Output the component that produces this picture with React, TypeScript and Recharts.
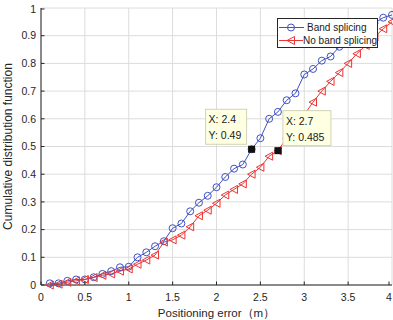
import {
  CartesianGrid,
  Legend,
  Line,
  LineChart,
  XAxis,
  YAxis,
} from "recharts";

const errorSteps = [
  0.1, 0.2, 0.3, 0.4, 0.5, 0.6, 0.7, 0.8, 0.9, 1.0,
  1.1, 1.2, 1.3, 1.4, 1.5, 1.6, 1.7, 1.8, 1.9, 2.0,
  2.1, 2.2, 2.3, 2.4, 2.5, 2.6, 2.7, 2.8, 2.9, 3.0,
  3.1, 3.2, 3.3, 3.4, 3.5, 3.6, 3.7, 3.8, 3.9, 4.0,
];

const bandSplicing = [
  0.006, 0.006, 0.015, 0.02, 0.02, 0.028, 0.04, 0.05, 0.064, 0.066,
  0.1, 0.118, 0.14, 0.158, 0.205, 0.222, 0.266, 0.297, 0.322, 0.353,
  0.39, 0.42, 0.435, 0.49, 0.53, 0.6, 0.625, 0.667, 0.692, 0.76,
  0.78, 0.81, 0.825, 0.86, 0.885, 0.905, 0.925, 0.945, 0.965, 0.975,
];

const noBandSplicing = [
  0.0, 0.003, 0.01, 0.015, 0.02, 0.027, 0.035, 0.04, 0.05, 0.058,
  0.075, 0.09, 0.108, 0.155, 0.163, 0.18, 0.21, 0.25, 0.27, 0.295,
  0.325, 0.345, 0.365, 0.4, 0.425, 0.465, 0.485, 0.53, 0.57, 0.615,
  0.66, 0.7, 0.735, 0.767, 0.8, 0.835, 0.865, 0.895, 0.925, 0.95,
];

const xTicks = [0, 0.5, 1, 1.5, 2, 2.5, 3, 3.5, 4];
const yTicks = [0, 0.1, 0.2, 0.3, 0.4, 0.5, 0.6, 0.7, 0.8, 0.9, 1];

// data tips sit on these x values of each series
const tipBandX = 2.4;
const tipNoBandX = 2.7;

const BLUE = "#4052c2";
const RED = "#ec3434";
const AXIS = "#262626";
const FONT = "'Liberation Sans', Arial, sans-serif";

const same = (a: number, b: number) => Math.abs(a - b) < 1e-9;

const chartData = errorSteps.map((x, i) => ({
  x,
  band: bandSplicing[i],
  noBand: noBandSplicing[i],
  tipBand: same(x, tipBandX) ? bandSplicing[i] : null,
  tipNoBand: same(x, tipNoBandX) ? noBandSplicing[i] : null,
}));

const TICK_LEN = 3.5;

function BottomTick({ x, y, payload }: any) {
  return (
    <g>
      <line x1={x} x2={x} y1={y} y2={y - TICK_LEN} stroke={AXIS} />
      <text x={x} y={y + 15.5} textAnchor="middle" fontSize={10.5} fill={AXIS} fontFamily={FONT}>
        {payload.value}
      </text>
    </g>
  );
}

function LeftTick({ x, y, payload }: any) {
  return (
    <g>
      <line x1={x} x2={x + TICK_LEN} y1={y} y2={y} stroke={AXIS} />
      <text x={x - 5} y={y + 3.7} textAnchor="end" fontSize={10.5} fill={AXIS} fontFamily={FONT}>
        {payload.value}
      </text>
    </g>
  );
}

function TopTick({ x, y }: any) {
  return <line x1={x} x2={x} y1={y} y2={y + TICK_LEN} stroke={AXIS} />;
}

function RightTick({ x, y }: any) {
  return <line x1={x} x2={x - TICK_LEN} y1={y} y2={y} stroke={AXIS} />;
}

function CircleDot({ cx, cy }: any) {
  return <circle cx={cx} cy={cy} r={3.5} fill="none" stroke={BLUE} strokeWidth={1} />;
}

function TriangleDot({ cx, cy }: any) {
  const pts = `${cx - 4},${cy} ${cx + 3.5},${cy - 4} ${cx + 3.5},${cy + 4}`;
  return <polygon points={pts} fill="none" stroke={RED} strokeWidth={1} />;
}

function makeTip(side: "left" | "right") {
  return function TipDot({ cx, cy, value, payload }: any) {
    if (value == null || cx == null || cy == null) return <g />;
    const w = side === "left" ? 41 : 48;
    const h = 35;
    const bx = side === "left" ? cx - 5 - w : cx + 5;
    const by = cy - 5 - h;
    return (
      <g>
        <rect x={bx} y={by} width={w} height={h} fill="#ffffe1" stroke="#d2d2b4" strokeWidth={1} />
        <text x={bx + 3} y={by + 14} fontSize={10.5} fill="#1a1a1a" fontFamily={FONT}>
          {`X: ${payload.x}`}
        </text>
        <text x={bx + 3} y={by + 30} fontSize={10.5} fill="#1a1a1a" fontFamily={FONT}>
          {`Y: ${value}`}
        </text>
        <rect x={cx - 3.5} y={cy - 3.5} width={7} height={7} fill="#111" />
      </g>
    );
  };
}

const TipLeft = makeTip("left");
const TipRight = makeTip("right");

function LegendBox() {
  const row = (label: string, marker: "circle" | "tri", color: string) => (
    <div style={{ display: "flex", alignItems: "center", height: 13 }}>
      <svg width={29} height={13} style={{ display: "block" }}>
        <line x1={1} x2={26} y1={6.5} y2={6.5} stroke={color} />
        {marker === "circle" ? (
          <circle cx={13} cy={6.5} r={3.5} fill="none" stroke={color} />
        ) : (
          <polygon points="9,6.5 16.5,2.5 16.5,10.5" fill="none" stroke={color} />
        )}
      </svg>
      <span style={{ fontSize: 10, color: "#1a1a1a", fontFamily: FONT, whiteSpace: "nowrap" }}>
        {label}
      </span>
    </div>
  );
  return (
    <div
      style={{
        width: 101,
        height: 30,
        boxSizing: "border-box",
        border: `1px solid ${AXIS}`,
        background: "#fff",
        paddingTop: 1.5,
      }}
    >
      {row("Band splicing", "circle", BLUE)}
      {row("No band splicing", "tri", RED)}
    </div>
  );
}

export default function App() {
  return (
    <div style={{ position: "absolute", left: 0, top: 0, width: 393, height: 320, background: "#fff" }}>
      <LineChart
        width={393}
        height={320}
        data={chartData}
        margin={{ top: 8, right: 1, left: 0, bottom: 0 }}
      >
        <CartesianGrid stroke="#dcdcdc" vertical horizontal />
        <XAxis
          dataKey="x"
          type="number"
          domain={[0, 4]}
          ticks={xTicks}
          height={35}
          tickSize={0}
          tickMargin={0}
          tick={<BottomTick />}
          axisLine={{ stroke: AXIS }}
          tickLine={false}
          label={{
            value: "Positioning error（m）",
            position: "insideBottom",
            offset: 3,
            fontSize: 11.5,
            fill: AXIS,
            fontFamily: FONT,
          }}
        />
        <XAxis
          xAxisId="top"
          orientation="top"
          type="number"
          domain={[0, 4]}
          ticks={xTicks}
          height={0}
          tickSize={0}
          tickMargin={0}
          tick={<TopTick />}
          axisLine={{ stroke: AXIS }}
          tickLine={false}
        />
        <YAxis
          type="number"
          domain={[0, 1]}
          ticks={yTicks}
          width={41}
          tickSize={0}
          tickMargin={0}
          tick={<LeftTick />}
          axisLine={{ stroke: AXIS }}
          tickLine={false}
          label={(props: any) => {
            const vb = props.viewBox || { x: 0, y: 8, height: 277 };
            const cx = vb.x + 12;
            const cy = vb.y + vb.height / 2;
            return (
              <text
                x={cx}
                y={cy}
                transform={`rotate(-90 ${cx} ${cy})`}
                textAnchor="middle"
                fontSize={12}
                fill={AXIS}
                fontFamily={FONT}
              >
                Cumulative distribution function
              </text>
            );
          }}
        />
        <YAxis
          yAxisId="right"
          orientation="right"
          type="number"
          domain={[0, 1]}
          ticks={yTicks}
          width={0}
          tickSize={0}
          tickMargin={0}
          tick={<RightTick />}
          axisLine={{ stroke: AXIS }}
          tickLine={false}
        />
        <Line
          dataKey="band"
          name="Band splicing"
          stroke={BLUE}
          strokeWidth={1}
          dot={<CircleDot />}
          activeDot={false}
          isAnimationActive={false}
        />
        <Line
          dataKey="noBand"
          name="No band splicing"
          stroke={RED}
          strokeWidth={1}
          dot={<TriangleDot />}
          activeDot={false}
          isAnimationActive={false}
        />
        <Line
          dataKey="tipBand"
          stroke="none"
          legendType="none"
          dot={<TipLeft />}
          activeDot={false}
          isAnimationActive={false}
        />
        <Line
          dataKey="tipNoBand"
          stroke="none"
          legendType="none"
          dot={<TipRight />}
          activeDot={false}
          isAnimationActive={false}
        />
        <Legend
          layout="horizontal"
          verticalAlign="middle"
          align="center"
          content={() => <LegendBox />}
          wrapperStyle={{ top: 18, left: 277, width: 101, height: 30 }}
        />
      </LineChart>
    </div>
  );
}
